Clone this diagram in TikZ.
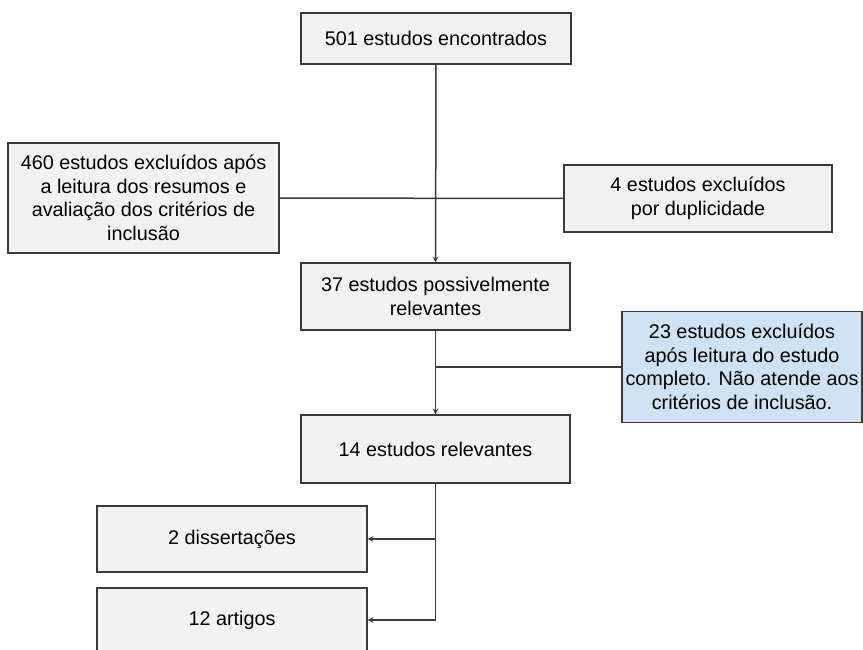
\documentclass[tikz,border=0pt]{standalone}
\usepackage{fontspec}
\setmainfont{Liberation Sans}
\usetikzlibrary{arrows}
\definecolor{boxgray}{HTML}{F2F2F2}
\definecolor{boxblue}{HTML}{CFE2F3}
\definecolor{linegray}{HTML}{3A3A3A}
\tikzset{box/.style={draw=linegray, line width=1.4pt, fill=boxgray, align=center, inner sep=2pt, font=\fontsize{19.8}{23.5}\selectfont}}
\tikzset{bluebox/.style={box, fill=boxblue}}
\tikzset{link/.style={draw=linegray, line width=1.5pt}}

\begin{document}
\begin{tikzpicture}[x=1pt, y=-1pt]
				\useasboundingbox (0, 0) rectangle (863, 649);
				\node[box, minimum width=270pt, minimum height=51pt] (found) at (436, 38.5) {501 estudos encontrados};
				\node[box, minimum width=271pt, minimum height=110pt] (excl460) at (143.5, 198) {460 estudos excluídos após\\a leitura dos resumos e\\avaliação dos critérios de\\inclusão};
				\node[box, minimum width=268pt, minimum height=67pt] (dup4) at (698, 198.5) {4 estudos excluídos\\por duplicidade};
				\node[box, minimum width=269pt, minimum height=67pt] (poss37) at (435.5, 296.5) {37 estudos possivelmente\\relevantes};
				\node[bluebox, minimum width=240pt, minimum height=111pt] (excl23) at (742, 367) {23 estudos excluídos\\após leitura do estudo\\completo. Não atende aos\\critérios de inclusão.};
				\node[box, minimum width=269pt, minimum height=68pt] (rel14) at (435.5, 449) {14 estudos relevantes};
				\node[box, minimum width=270pt, minimum height=66pt] (diss) at (232, 539) {2 dissertações};
				\node[box, minimum width=270pt, minimum height=64pt] (art) at (232, 620) {12 artigos};
				\coordinate (cross2) at (poss37.south |- excl23.west);
				% fluxo principal
				\draw[link, -stealth] (found) -- (poss37);
				\draw[link] (excl460) -- (dup4);
				\draw[link, -stealth] (poss37) -- (rel14);
				\draw[link] (cross2) -- (excl23);
				% saídas
				\draw[link, -stealth] (rel14.south) |- (diss.east);
				\draw[link, -stealth] (rel14.south) |- (art.east);
				\end{tikzpicture}
\end{document}
